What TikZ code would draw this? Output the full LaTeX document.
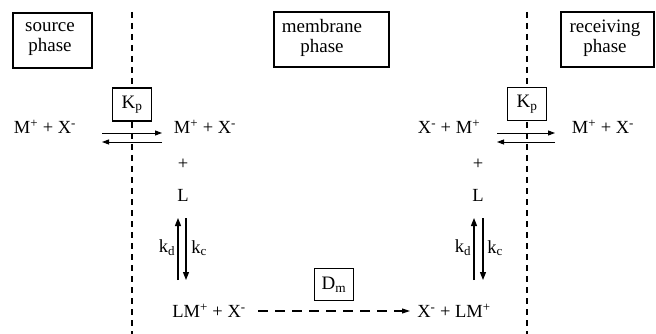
\documentclass[tikz,border=0pt]{standalone}
\usepackage{fontspec}
\setmainfont{Liberation Serif}
\usetikzlibrary{arrows.meta}
\newcommand{\ssup}[1]{\textsuperscript{#1}}
\newcommand{\subs}[1]{\textsubscript{#1}}
\begin{document}
\begin{tikzpicture}[x=1pt,y=-1pt,
  every node/.style={font=\fontsize{18.5}{20}\selectfont, inner sep=0pt},
  phasebox/.style={draw, line width=1.3pt},
  constbox/.style={draw, line width=1.2pt, minimum width=39pt, minimum height=33pt},
  boundary/.style={line width=1.5pt, dash pattern=on 6pt off 5pt},
  eqarrow/.style={line width=0.9pt, -{Triangle[length=7pt,width=5pt]}},
  rate/.style={line width=1.3pt, -{Triangle[length=8pt,width=6pt]}},
  transport/.style={line width=1.1pt, dash pattern=on 10pt off 7pt, -{Triangle[length=8pt,width=5pt]}},
  lab/.style={font=\fontsize{19}{20}\selectfont}]
\useasboundingbox (0,0) rectangle (656,334);

% phase boundaries
\coordinate (bl1) at (132,12);
\coordinate (bl2) at (132,334);
\coordinate (br1) at (527,12);
\coordinate (br2) at (527,334);
\draw[boundary] (bl1) -- (bl2);
\draw[boundary] (br1) -- (br2);

% phase labels
\draw[phasebox] (13,13) rectangle (92,68);
\node[align=center, lab] (src) at (50,39) {source\\phase};
\draw[phasebox] (274,12) rectangle (389,67);
\node[align=center, lab] (mem) at (322,38) {membrane\\phase};
\draw[phasebox] (561,12) rectangle (654,67);
\node[align=center, lab] (rec) at (605,38) {receiving\\phase};

% partition constants
\node[constbox, fill=white, lab] (kp1) at (132,104.5) {K\subs{p}};
\node[constbox, fill=white, lab] (kp2) at (527,104) {K\subs{p}};

% source side interface
\node (srcMX) at (45,127) {M\ssup{+} + X\ssup{-}};
\node (memMX) at (205,127) {M\ssup{+} + X\ssup{-}};
\coordinate (a1s) at (102,133);
\coordinate (a1e) at (162,133);
\coordinate (b1s) at (162,142);
\coordinate (b1e) at (102,142);
\draw[eqarrow] (a1s) -- (a1e);
\draw[eqarrow] (b1s) -- (b1e);

% receiving side interface
\node (memXM) at (449,127) {X\ssup{-} + M\ssup{+}};
\node (recMX) at (603,127) {M\ssup{+} + X\ssup{-}};
\coordinate (a2s) at (497,133);
\coordinate (a2e) at (555,133);
\coordinate (b2s) at (555,142);
\coordinate (b2e) at (497,142);
\draw[eqarrow] (a2s) -- (a2e);
\draw[eqarrow] (b2s) -- (b2e);

% complexation, source side
\node (p1) at (183,164) {+};
\node (L1) at (183,195) {L};
\coordinate (u1a) at (178,280);
\coordinate (u1b) at (178,218);
\coordinate (d1a) at (186,218);
\coordinate (d1b) at (186,280);
\draw[rate] (u1a) -- (u1b);
\draw[rate] (d1a) -- (d1b);
\node (kd1) at (167,248) {k\subs{d}};
\node (kc1) at (199,248) {k\subs{c}};

% complexation, receiving side
\node (p2) at (478,164) {+};
\node (L2) at (478,195) {L};
\coordinate (u2a) at (474,280);
\coordinate (u2b) at (474,218);
\coordinate (d2a) at (483,218);
\coordinate (d2b) at (483,280);
\draw[rate] (u2a) -- (u2b);
\draw[rate] (d2a) -- (d2b);
\node (kd2) at (463,248) {k\subs{d}};
\node (kc2) at (495,248) {k\subs{c}};

% diffusion through the membrane
\node (LMX) at (209,311) {LM\ssup{+} + X\ssup{-}};
\node (XLM) at (454,311) {X\ssup{-} + LM\ssup{+}};
\node[constbox, minimum height=32pt, lab] (dm) at (334,284.5) {D\subs{m}};
\coordinate (ts) at (258,311);
\coordinate (te) at (410,311);
\draw[transport] (ts) -- (te);
\end{tikzpicture}
\end{document}
